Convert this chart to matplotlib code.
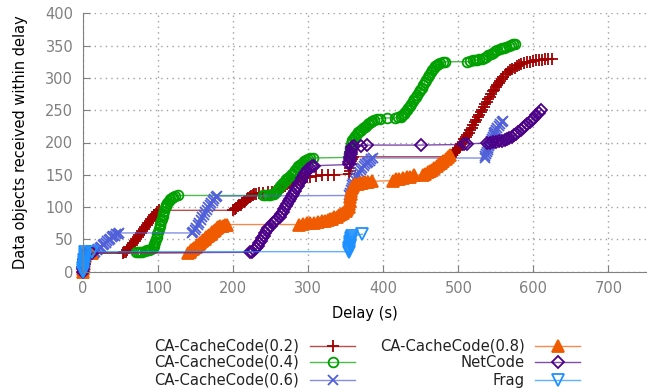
import matplotlib
matplotlib.use("Agg")
import matplotlib.pyplot as plt
from matplotlib.lines import Line2D

# cumulative objects received vs delay
start_x = [0, 0, 0, 1, 1, 1, 2, 3, 12]
start_y = [0, 4, 8, 12, 16, 20, 24, 28, 29]

cc02_x = start_x + [53, 55, 57, 59, 61, 63, 65, 67, 69, 71, 73, 75, 77, 79, 81, 83, 85, 87, 89,
                    91, 93, 95, 97, 99, 101,
                    200, 202, 204, 206, 208, 210, 212, 214, 216, 218, 220, 222, 224, 226, 228,
                    230, 234, 240, 246,
                    252, 256, 260, 263, 266, 269, 272, 275, 278, 281, 284, 287, 290, 293, 296,
                    299, 302, 310, 318, 326, 334,
                    355, 356, 356, 357, 357, 358, 360,
                    490, 492, 494, 496, 498, 500, 502, 504, 506, 508, 510, 512, 514, 516, 518,
                    520, 522, 524, 526, 528, 530, 532, 534, 536, 538, 540, 542, 544, 546, 548,
                    550, 552, 554, 556, 558, 560, 563, 566, 569, 572, 575, 578, 581, 584, 588,
                    592, 596, 600, 604, 608, 612, 616, 620, 625]
cc02_y = start_y + [29, 30, 31, 33, 36, 39, 42, 45, 48, 51, 54, 57, 60, 63, 66, 69, 72, 75, 78,
                    81, 84, 87, 90, 93, 95,
                    95, 97, 99, 101, 103, 104, 106, 108, 110, 112, 114, 116, 117, 119, 120,
                    121, 122, 122, 123,
                    124, 125, 127, 129, 131, 133, 135, 137, 139, 140, 142, 143, 144, 145, 146,
                    147, 147, 148, 149, 150, 150,
                    151, 156, 161, 166, 171, 175, 178,
                    178, 180, 183, 186, 188, 191, 194, 198, 201, 205, 208, 212, 215, 219, 223,
                    227, 231, 235, 239, 243, 247, 251, 255, 259, 263, 267, 271, 275, 279, 282,
                    286, 289, 292, 295, 299, 302, 306, 309, 312, 314, 316, 318, 320, 321, 323,
                    324, 325, 326, 327, 327, 328, 329, 329, 330]

cc04_x = start_x + [70, 73, 76, 79, 82, 85, 88, 91, 93, 94, 95, 96, 97, 98, 99, 100, 101, 102,
                    103, 104, 105, 106, 107, 108, 109, 110, 111, 112, 114, 116, 118, 120, 123, 126,
                    240, 243, 246, 249, 252, 255, 257, 259, 261, 263, 265, 267, 269, 271, 273,
                    275, 277, 279, 281, 283, 285, 287, 289, 291, 293, 295, 297, 300, 303, 306,
                    355, 355, 356, 356, 357, 358, 359, 361, 363, 365, 367, 369, 371, 373, 375,
                    377, 379, 381, 383, 385, 388, 391, 395, 405, 415, 420,
                    423, 425, 427, 429, 431, 433, 435, 437, 439, 441, 443, 445, 447, 449, 451,
                    453, 455, 457, 459, 461, 463, 465, 467, 469, 471, 473, 476, 479, 482,
                    512, 516, 519, 522, 525, 528, 531, 534, 537, 540, 543, 546, 549, 552, 555,
                    558, 561, 564, 567, 570, 573, 576]
cc04_y = start_y + [30, 30, 31, 31, 32, 33, 34, 35, 37, 40, 43, 46, 50, 54, 58, 62, 66, 70,
                    74, 78, 82, 86, 90, 94, 98, 101, 104, 107, 110, 112, 114, 116, 117, 118,
                    118, 118, 119, 119, 120, 121, 123, 126, 129, 132, 135, 138, 141, 143, 145,
                    147, 149, 151, 154, 157, 160, 163, 165, 167, 169, 171, 173, 175, 176, 176,
                    177, 182, 187, 192, 197, 201, 204, 207, 210, 213, 216, 218, 220, 222, 224,
                    226, 228, 230, 232, 234, 235, 236, 237, 238, 238, 239,
                    240, 242, 244, 247, 250, 253, 257, 260, 264, 267, 271, 274, 278, 281, 285,
                    289, 293, 297, 301, 305, 309, 312, 315, 318, 320, 322, 323, 324, 325,
                    325, 326, 327, 327, 328, 329, 330, 331, 333, 335, 337, 339, 341, 343, 344,
                    346, 347, 348, 350, 351, 352, 353]

cc06_x = start_x + [14, 16, 18, 20, 22, 24, 26, 28, 30, 32, 34, 36, 38, 40, 42, 44, 46, 48,
                    145, 147, 149, 151, 153, 155, 157, 159, 161, 163, 165, 167, 169, 171, 173,
                    175, 177, 179,
                    355, 356, 357, 358, 359, 360, 362, 364, 366, 368, 370, 372, 374, 376, 378,
                    380, 382, 384, 386,
                    535, 536, 537, 538, 539, 540, 541, 542, 543, 544, 545, 546, 547, 548, 549,
                    550, 552, 554, 556, 558, 560]
cc06_y = start_y + [29, 31, 33, 35, 37, 39, 41, 43, 45, 47, 49, 51, 53, 55, 56, 58, 59, 60,
                    60, 62, 65, 68, 72, 76, 80, 84, 88, 92, 96, 100, 104, 107, 110,
                    113, 116, 117,
                    118, 122, 126, 130, 134, 138, 142, 146, 150, 154, 157, 160, 163, 166, 168,
                    170, 172, 174, 176,
                    176, 179, 182, 185, 188, 191, 194, 197, 200, 203, 206, 209, 212, 215, 217,
                    220, 223, 226, 229, 232, 234]

cc08_x = start_x + [140, 142, 144, 146, 148, 150, 152, 154, 156, 158, 160, 162, 164, 166, 168,
                    170, 172, 174, 176, 178, 180, 183, 186, 189, 192,
                    288, 293, 298, 303, 308, 313, 318, 322, 326, 329, 332, 335, 338, 341, 344,
                    347, 350, 352, 354, 355, 356, 356, 357, 357, 358, 360, 363, 366, 369, 372,
                    376, 380, 385,
                    413, 417, 421, 426, 431, 436, 441,
                    453, 456, 459, 462, 465, 468, 471, 474, 477, 480, 483, 486, 489]
cc08_y = start_y + [29, 31, 33, 35, 37, 39, 41, 43, 45, 47, 49, 51, 53, 55, 57,
                    59, 61, 63, 65, 67, 69, 70, 71, 72, 73,
                    73, 74, 75, 75, 76, 77, 78, 79, 80, 81, 82, 84, 85, 87, 89,
                    91, 94, 97, 100, 105, 110, 115, 120, 125, 130, 133, 135, 136, 137, 138,
                    139, 139, 140,
                    141, 143, 144, 145, 146, 147, 149,
                    150, 152, 154, 156, 158, 160, 163, 166, 169, 172, 175, 178, 180]

netcode_x = start_x + [222, 225, 228, 231, 233, 235, 237, 239, 241, 243, 245, 247, 250, 253,
                       256, 259, 262, 264, 266, 268, 270, 272, 274, 276, 278, 280, 282, 284,
                       286, 288, 290, 292, 294, 296, 298, 300, 302, 305, 308,
                       355, 355, 356, 356, 357, 357, 358, 359, 361, 370, 378, 450, 507, 512,
                       538, 542, 546, 550, 554, 558, 562, 565, 568, 571, 574, 577, 580, 583,
                       586, 589, 592, 595, 598, 601, 604, 607, 610]
netcode_y = start_y + [30, 31, 33, 36, 40, 44, 48, 52, 56, 60, 64, 67, 71, 75,
                       78, 81, 85, 89, 93, 97, 101, 105, 109, 113, 117, 121, 125, 129,
                       133, 137, 141, 145, 149, 153, 156, 159, 161, 163, 164,
                       166, 170, 174, 178, 182, 186, 190, 193, 194, 195, 196, 196, 197, 198,
                       199, 200, 201, 201, 202, 203, 204, 205, 207, 209, 211, 213, 216, 219,
                       222, 225, 228, 232, 235, 238, 242, 246, 250]

frag_x = [0, 0, 0, 1, 1, 1, 1, 2, 2, 2, 3, 12,
          355, 355, 355, 356, 356, 356, 357, 357, 358, 372]
frag_y = [0, 3, 6, 9, 12, 15, 18, 21, 24, 27, 30, 31,
          31, 34, 37, 40, 43, 46, 49, 52, 55, 58]

series = [
    ("CA-CacheCode(0.2)", cc02_x, cc02_y, "#a00000", "+", 8, "#a00000"),
    ("CA-CacheCode(0.4)", cc04_x, cc04_y, "#00a000", "o", 7, "none"),
    ("CA-CacheCode(0.6)", cc06_x, cc06_y, "#5060d8", "x", 7.5, "#5060d8"),
    ("CA-CacheCode(0.8)", cc08_x, cc08_y, "#f05a00", "^", 8, "#f05a00"),
    ("NetCode", netcode_x, netcode_y, "#4b0088", "D", 6, "none"),
    ("Frag", frag_x, frag_y, "#1e90ff", "v", 8, "none"),
]

fig = plt.figure(figsize=(6.48, 3.9), dpi=100)
ax = fig.add_axes([83 / 648, 1 - 271.7 / 390, 563 / 648, 258.4 / 390])

for name, xs, ys, col, mk, ms, fc in series:
    ax.plot(xs, ys, color=col, lw=1, alpha=0.7, clip_on=False)
    ax.plot(xs, ys, ls="none", marker=mk, ms=ms, mfc=fc, mec=col, mew=1.3, clip_on=False)

ax.set_xlim(0, 750)
ax.set_ylim(0, 400)
ax.set_xticks(range(0, 701, 100))
ax.set_yticks(range(0, 401, 50))
ax.grid(True, color="#a0a0a0", ls=(0, (1, 3)), lw=1)
ax.set_axisbelow(True)
for s in ["top", "right"]:
    ax.spines[s].set_visible(False)
for s in ["left", "bottom"]:
    ax.spines[s].set_color("#808080")
ax.tick_params(direction="in", length=5, color="#808080", labelcolor="#808080",
               labelsize=10.5)
ax.tick_params(axis="x", pad=7)
ax.tick_params(axis="y", pad=7)

ax.set_xlabel("Delay (s)", fontsize=10.5, labelpad=7)
ax.set_ylabel("Data objects received within delay", fontsize=10.5, labelpad=12)

# gnuplot-style key: right-aligned text, then sample line with centred marker
W, H = 648.0, 390.0
row_y = [345.7, 362.3, 380.0]
cols = [(299, 310, 355), (525, 535, 580)]
for i, (name, xs, ys, col, mk, ms, fc) in enumerate(series):
    tx, l0, l1 = cols[i // 3]
    yy = 1 - row_y[i % 3] / H
    fig.add_artist(Line2D([l0 / W, l1 / W], [yy, yy], transform=fig.transFigure,
                          color=col, lw=1, alpha=0.7))
    fig.add_artist(Line2D([(l0 + l1) / 2 / W], [yy], transform=fig.transFigure,
                          ls="none", marker=mk, ms=ms, mfc=fc, mec=col, mew=1.3))
    fig.text(tx / W, yy, name, ha="right", va="center", fontsize=10.6, color="#222222")

fig.savefig("out.png", dpi=100)
